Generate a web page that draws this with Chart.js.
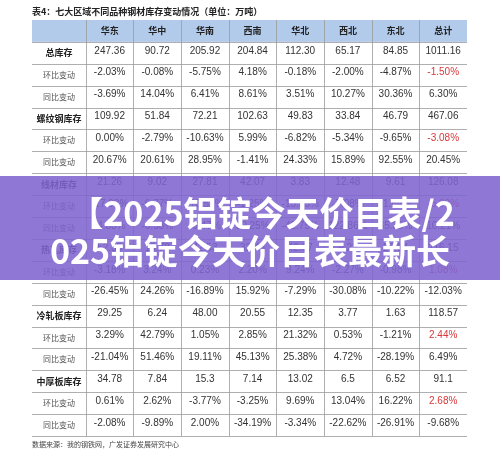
<!DOCTYPE html>
<html><head><meta charset="utf-8">
<script src="https://cdn.jsdelivr.net/npm/chart.js@4"></script>
<style>html,body{margin:0;padding:0;background:#fff}#wrap{width:500px;height:456px}</style>
</head><body><div id="wrap"><canvas id="myChart"></canvas></div>
<script>
const regions = ['华东', '华中', '华南', '西南', '华北', '西北', '东北', '总计'];
const rowLabels = [
    '总库存', '环比变动', '同比变动',
    '螺纹钢库存', '环比变动', '同比变动',
    '线材库存', '环比变动', '同比变动',
    '热轧库存', '环比变动', '同比变动',
    '冷轧板库存', '环比变动', '同比变动',
    '中厚板库存', '环比变动', '同比变动',
];
const totalStock = ['247.36', '90.72', '205.92', '204.84', '112.30', '65.17', '84.85', '1011.16'];
const totalMoM = ['-2.03%', '-0.08%', '-5.75%', '4.18%', '-0.18%', '-2.00%', '-4.87%', '-1.50%'];
const totalYoY = ['-3.69%', '14.04%', '6.41%', '8.61%', '3.51%', '10.27%', '30.36%', '6.30%'];
const rebarStock = ['109.92', '51.84', '72.21', '102.63', '49.83', '33.84', '46.79', '467.06'];
const rebarMoM = ['0.00%', '-2.79%', '-10.63%', '5.99%', '-6.82%', '-5.34%', '-9.65%', '-3.08%'];
const rebarYoY = ['20.67%', '20.61%', '28.95%', '-1.41%', '24.33%', '15.89%', '92.55%', '20.45%'];
const wireStock = ['21.26', '9.02', '27.81', '42.07', '3.83', '12.48', '9.61', '126.08'];
const wireMoM = ['-17.93%', '-6.77%', '-10.52%', '-1.25%', '-15.55%', '-7.08%', '-1.64%', '-5.98%'];
const wireYoY = ['-4.83%', '-6.53%', '-9.47%', '30.25%', '-42.75%', '122.86%', '35.35%', '10.21%'];
const hotStock = ['52.35', '15.78', '42.53', '32.45', '42.97', '9.23', '20.84', '216.15'];
const hotMoM = ['-3.18%', '3.24%', '0.23%', '2.20%', '9.24%', '-2.27%', '-0.98%', '1.08%'];
const hotYoY = ['-26.45%', '24.26%', '-16.89%', '15.92%', '-7.29%', '-30.08%', '-10.22%', '-12.03%'];
const coldStock = ['29.25', '6.24', '48.00', '20.55', '12.35', '3.77', '1.63', '118.57'];
const coldMoM = ['3.29%', '42.79%', '1.05%', '2.85%', '21.32%', '0.53%', '-1.21%', '2.44%'];
const coldYoY = ['-21.04%', '51.46%', '19.11%', '45.13%', '25.38%', '4.72%', '-28.19%', '6.49%'];
const plateStock = ['34.78', '7.84', '15.3', '7.14', '13.02', '6.5', '6.52', '91.1'];
const plateMoM = ['0.61%', '2.62%', '-3.77%', '-3.25%', '9.69%', '13.04%', '16.22%', '2.68%'];
const plateYoY = ['-2.08%', '-9.89%', '2.00%', '-34.19%', '-3.34%', '-22.62%', '-26.91%', '-9.68%'];

const tableRows = [totalStock, totalMoM, totalYoY, rebarStock, rebarMoM, rebarYoY,
    wireStock, wireMoM, wireYoY, hotStock, hotMoM, hotYoY,
    coldStock, coldMoM, coldYoY, plateStock, plateMoM, plateYoY];

// one invisible point per cell, text drawn at its scale position
const cells = [];
tableRows.forEach((row, r) => row.forEach((v, c) => cells.push({ x: c + 0.5, y: r + 1.5, t: v })));

const tablePlugin = {
    id: 'table',
    afterDatasetsDraw(chart) {
        const ctx = chart.ctx;
        const xs = chart.scales.x, ys = chart.scales.y;
        const left = xs.getPixelForValue(-1.13), right = xs.getPixelForValue(8);
        ctx.save();
        // header
        ctx.fillStyle = '#b3cbeb';
        ctx.fillRect(left, ys.getPixelForValue(0), right - left, ys.getPixelForValue(1) - ys.getPixelForValue(0));
        // grid
        ctx.strokeStyle = '#9a9a9a';
        ctx.lineWidth = 0.8;
        for (let r = 1; r <= 19; r++) {
            const y = Math.round(ys.getPixelForValue(r)) + 0.5;
            ctx.beginPath(); ctx.moveTo(left, y); ctx.lineTo(right, y); ctx.stroke();
        }
        for (let c = 0; c < 8; c++) {
            const x = Math.round(xs.getPixelForValue(c)) + 0.5;
            ctx.beginPath(); ctx.moveTo(x, ys.getPixelForValue(0)); ctx.lineTo(x, ys.getPixelForValue(19)); ctx.stroke();
        }
        ctx.textAlign = 'center';
        ctx.textBaseline = 'middle';
        ctx.fillStyle = '#222';
        ctx.font = 'bold 9px "Noto Sans CJK SC"';
        regions.forEach((g, c) => ctx.fillText(g, xs.getPixelForValue(c + 0.5), ys.getPixelForValue(0.5)));
        rowLabels.forEach((l, r) => {
            const stock = r % 3 === 0;
            ctx.font = stock ? 'bold 9px "Noto Sans CJK SC"' : '8px "Noto Sans CJK SC"';
            ctx.fillStyle = stock ? '#222' : '#555';
            ctx.fillText(l, xs.getPixelForValue(-0.565), ys.getPixelForValue(r + 1.5));
        });
        ctx.font = '10px "Liberation Sans"';
        cells.forEach((p, i) => {
            const r = Math.floor(i / 8), c = i % 8;
            ctx.fillStyle = (c === 7 && r % 3 === 1) ? '#d9383a' : '#333';
            ctx.fillText(p.t, xs.getPixelForValue(p.x), ys.getPixelForValue(p.y) - 2);
        });
        // title and source
        ctx.textAlign = 'left';
        ctx.fillStyle = '#222';
        ctx.font = 'bold 9px "Noto Sans CJK SC"';
        ctx.fillText('表4：七大区域不同品种钢材库存变动情况（单位：万吨）', left, 12);
        ctx.font = '7px "Noto Sans CJK SC"';
        ctx.fillStyle = '#444';
        ctx.fillText('数据来源：我的钢铁网，广发证券发展研究中心', left, 444);
        // banner overlay
        ctx.fillStyle = 'rgba(128, 100, 208, 0.88)';
        ctx.fillRect(0, 176, 500, 104);
        ctx.fillStyle = '#fff';
        ctx.textAlign = 'center';
        ctx.font = 'bold 34px "Noto Sans CJK SC"';
        ctx.fillText('【2025铝锭今天价目表/2', 262, 213);
        ctx.fillText('025铝锭今天价目表最新长', 250, 251);
        ctx.restore();
    }
};

const myChart = new Chart(document.getElementById('myChart'), {
    type: 'scatter',
    data: { datasets: [{ data: cells, pointRadius: 0 }] },
    options: {
        responsive: true,
        maintainAspectRatio: false,
        animation: false,
        layout: { padding: { left: 32, right: 33, top: 20, bottom: 20 } },
        plugins: { legend: { display: false }, tooltip: { enabled: false } },
        scales: {
            x: { type: 'linear', min: -1.13, max: 8, display: false },
            y: { type: 'linear', min: 0, max: 19, reverse: true, display: false }
        }
    },
    plugins: [tablePlugin]
});
</script></body></html>
